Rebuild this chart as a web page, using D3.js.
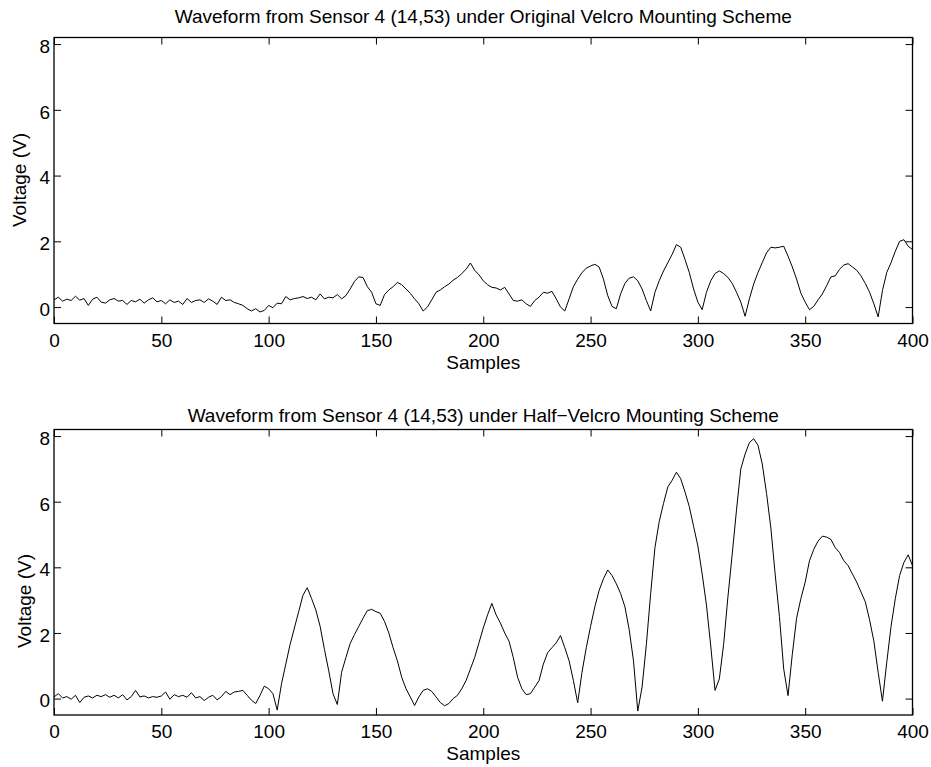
<!DOCTYPE html>
<html>
<head>
<meta charset="utf-8">
<script src="https://cdn.jsdelivr.net/npm/d3@7"></script>
<style>
  html, body { margin: 0; padding: 0; background: #fff; }
  svg { display: block; }
  text { font-family: "Liberation Sans", Arial, Helvetica, sans-serif; fill: #000; }
</style>
</head>
<body>
<svg id="fig" width="931" height="767"></svg>
<script>
// Sensor 4 waveforms, one reading every 2 samples (samples 0..400)
const sampleStep = 2;

const originalVelcro = [
  0.22, 0.30, 0.18, 0.24, 0.20, 0.33, 0.21, 0.26, 0.05, 0.24,
  0.30, 0.15, 0.12, 0.22, 0.26, 0.18, 0.20, 0.08, 0.20, 0.16,
  0.24, 0.12, 0.22, 0.28, 0.16, 0.20, 0.10, 0.22, 0.14, 0.18,
  0.08, 0.26, 0.14, 0.20, 0.22, 0.14, 0.25, 0.18, 0.08, 0.30,
  0.20, 0.22, 0.14, 0.10, 0.05, -0.05, -0.12, -0.05, -0.15, -0.10,
  0.05, -0.02, 0.12, 0.10, 0.32, 0.22, 0.26, 0.28, 0.32, 0.26,
  0.30, 0.22, 0.40, 0.25, 0.30, 0.28, 0.38, 0.25, 0.35, 0.55,
  0.78, 0.92, 0.90, 0.62, 0.45, 0.10, 0.05, 0.38, 0.52, 0.62,
  0.75, 0.68, 0.55, 0.42, 0.25, 0.10, -0.12, 0.00, 0.22, 0.45,
  0.52, 0.62, 0.70, 0.82, 0.90, 1.02, 1.15, 1.34, 1.12, 0.98,
  0.80, 0.68, 0.60, 0.58, 0.52, 0.60, 0.40, 0.20, 0.18, 0.22,
  0.10, 0.02, 0.20, 0.30, 0.45, 0.42, 0.48, 0.25, 0.00, -0.12,
  0.25, 0.62, 0.85, 1.05, 1.18, 1.25, 1.30, 1.22, 0.85, 0.35,
  0.02, -0.05, 0.40, 0.72, 0.88, 0.92, 0.80, 0.55, 0.20, -0.12,
  0.45, 0.80, 1.10, 1.35, 1.60, 1.90, 1.82, 1.45, 1.05, 0.55,
  0.15, -0.08, 0.45, 0.80, 1.02, 1.10, 1.02, 0.90, 0.72, 0.45,
  0.15, -0.28, 0.25, 0.70, 1.05, 1.35, 1.65, 1.82, 1.80, 1.82,
  1.85, 1.55, 1.22, 0.85, 0.42, 0.15, -0.08, 0.02, 0.22, 0.40,
  0.65, 0.92, 0.95, 1.15, 1.28, 1.32, 1.22, 1.12, 0.95, 0.72,
  0.45, 0.10, -0.30, 0.50, 1.05, 1.35, 1.70, 2.00, 2.05, 1.85,
  1.75
];

const halfVelcro = [
  0.05, 0.15, 0.02, 0.06, -0.02, 0.10, -0.12, 0.04, 0.08, 0.02,
  0.10, 0.06, 0.12, 0.04, 0.10, 0.02, 0.12, -0.04, 0.06, 0.25,
  0.05, 0.08, 0.02, 0.06, 0.04, 0.08, 0.20, -0.02, 0.12, 0.06,
  0.10, 0.04, 0.18, 0.02, 0.06, -0.06, 0.04, 0.10, -0.04, 0.06,
  0.22, 0.12, 0.20, 0.22, 0.25, 0.10, -0.05, -0.15, 0.10, 0.38,
  0.30, 0.15, -0.35, 0.45, 1.05, 1.65, 2.15, 2.65, 3.15, 3.38,
  3.05, 2.70, 2.20, 1.50, 0.85, 0.15, -0.18, 0.80, 1.25, 1.68,
  1.95, 2.20, 2.45, 2.68, 2.72, 2.65, 2.60, 2.35, 2.00, 1.55,
  1.15, 0.65, 0.30, 0.05, -0.21, 0.05, 0.25, 0.30, 0.22, 0.05,
  -0.12, -0.22, -0.15, 0.00, 0.10, 0.30, 0.55, 0.90, 1.25, 1.70,
  2.15, 2.55, 2.90, 2.55, 2.30, 2.00, 1.75, 1.25, 0.65, 0.30,
  0.12, 0.15, 0.35, 0.55, 1.05, 1.40, 1.55, 1.70, 1.92, 1.55,
  1.15, 0.55, -0.13, 0.80, 1.55, 2.20, 2.80, 3.30, 3.65, 3.92,
  3.75, 3.50, 3.20, 2.80, 2.10, 1.15, -0.38, 0.35, 1.65, 3.20,
  4.60, 5.40, 5.95, 6.45, 6.65, 6.90, 6.70, 6.30, 5.85, 5.25,
  4.65, 3.80, 2.85, 1.60, 0.25, 0.60, 1.65, 3.10, 4.40, 5.75,
  7.00, 7.45, 7.80, 7.92, 7.72, 7.15, 6.25, 5.20, 3.80, 2.50,
  0.90, 0.09, 1.35, 2.45, 3.05, 3.55, 4.20, 4.55, 4.80, 4.95,
  4.92, 4.85, 4.60, 4.45, 4.20, 4.05, 3.80, 3.55, 3.25, 2.95,
  2.40, 1.75, 0.80, -0.08, 1.10, 2.20, 3.05, 3.75, 4.15, 4.38,
  4.05
];

const xTicks = [0, 50, 100, 150, 200, 250, 300, 350, 400];
const yTicks = [0, 2, 4, 6, 8];
const xDomain = [0, 400];
const yDomain = [-0.5, 8.2];

const panels = [
  {
    title: "Waveform from Sensor 4 (14,53) under Original Velcro Mounting Scheme",
    values: originalVelcro,
    top: 37.5, bottom: 323.5,
    titleY: 23, xLabelY: 369,
    yLabelX: 25.5, yLabelY: 180
  },
  {
    title: "Waveform from Sensor 4 (14,53) under Half\u2212Velcro Mounting Scheme",
    values: halfVelcro,
    top: 429.5, bottom: 715,
    titleY: 422, xLabelY: 760,
    yLabelX: 30.5, yLabelY: 601
  }
];

const left = 54, right = 912.5;
const fontSize = 19;
const tickLen = 7;

const svg = d3.select("#fig");
svg.append("rect").attr("width", 931).attr("height", 767).attr("fill", "#fff");

const x = d3.scaleLinear().domain(xDomain).range([left, right]);

panels.forEach(p => {
  const y = d3.scaleLinear().domain(yDomain).range([p.bottom, p.top]);
  const g = svg.append("g");

  const styleAxis = sel => {
    sel.select(".domain").remove();
    sel.selectAll(".tick line").attr("stroke", "#000").attr("stroke-width", 1);
    sel.selectAll(".tick text")
      .attr("font-size", fontSize)
      .attr("font-family", "Liberation Sans, Arial, Helvetica, sans-serif")
      .attr("fill", "#000");
  };

  // inward ticks on all four sides, labels on bottom and left
  g.append("g").attr("transform", `translate(0,${p.bottom})`)
    .call(d3.axisBottom(x).tickValues(xTicks).tickFormat(d3.format("d"))
      .tickSize(-tickLen).tickPadding(10))
    .call(styleAxis);
  g.append("g").attr("transform", `translate(0,${p.top})`)
    .call(d3.axisTop(x).tickValues(xTicks).tickFormat("").tickSize(-tickLen))
    .call(styleAxis);
  g.append("g").attr("transform", `translate(${left},0)`)
    .call(d3.axisLeft(y).tickValues(yTicks).tickFormat(d3.format("d"))
      .tickSize(-tickLen).tickPadding(4))
    .call(styleAxis)
    .call(sel => sel.selectAll(".tick text").attr("dy", "0.44em"));
  g.append("g").attr("transform", `translate(${right},0)`)
    .call(d3.axisRight(y).tickValues(yTicks).tickFormat("").tickSize(-tickLen))
    .call(styleAxis);

  // waveform
  const line = d3.line()
    .x((d, i) => x(i * sampleStep))
    .y(d => y(d));
  g.append("path")
    .datum(p.values)
    .attr("fill", "none")
    .attr("stroke", "#000")
    .attr("stroke-width", 1)
    .attr("stroke-linejoin", "round")
    .attr("d", line);

  // axes box
  g.append("rect")
    .attr("x", left).attr("y", p.top)
    .attr("width", right - left).attr("height", p.bottom - p.top)
    .attr("fill", "none").attr("stroke", "#000").attr("stroke-width", 1.3);

  // labels
  g.append("text")
    .attr("x", (left + right) / 2).attr("y", p.titleY)
    .attr("text-anchor", "middle").attr("font-size", fontSize)
    .text(p.title);
  g.append("text")
    .attr("x", (left + right) / 2).attr("y", p.xLabelY)
    .attr("text-anchor", "middle").attr("font-size", fontSize)
    .text("Samples");
  g.append("text")
    .attr("transform", `translate(${p.yLabelX},${p.yLabelY}) rotate(-90)`)
    .attr("text-anchor", "middle").attr("font-size", fontSize)
    .text("Voltage (V)");
});
</script>
</body>
</html>
